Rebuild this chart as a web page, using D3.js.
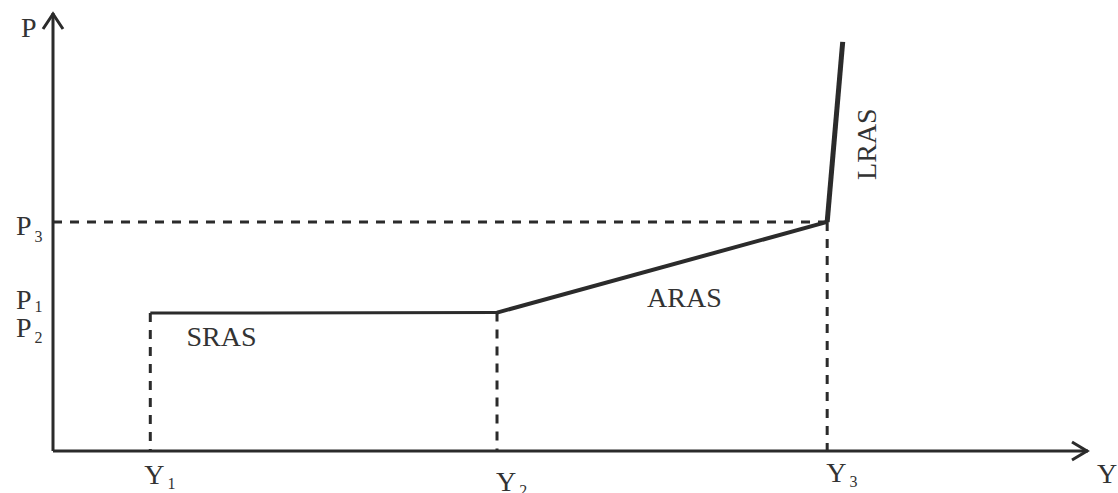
<!DOCTYPE html>
<html>
<head>
<meta charset="utf-8">
<script src="https://cdn.jsdelivr.net/npm/d3@7"></script>
<style>
  html, body { margin: 0; padding: 0; background: #fff; }
  svg { display: block; }
  text { font-family: "Liberation Serif", "DejaVu Serif", serif; fill: #333; }
</style>
</head>
<body>
<script>
// output levels on the Y axis (units of 0..100)
const yLabels = ["Y1", "Y2", "Y3"];
const yValues = [9.4, 42.9, 74.8];
// price levels on the P axis (units of 0..100)
const pLabels = ["P3", "P1", "P2"];
const pValues = [52.3, 31.5, 31.5];
// supply curve: SRAS flat, ARAS rising, LRAS near vertical
const curveX = [9.4, 42.9, 74.8, 76.3];
const curveP = [31.5, 31.6, 52.3, 93.4];
const curveNames = ["SRAS", "ARAS", "LRAS"];

const width = 1118, height = 493;
const svg = d3.select("body").append("svg")
  .attr("width", width)
  .attr("height", height);

const x = d3.scaleLinear().domain([0, 100]).range([53, 1088]);
const y = d3.scaleLinear().domain([0, 100]).range([451, 13]);

const ink = "#2b2b2b";
const fs = 28;

// axes
svg.append("line")
  .attr("x1", x(0)).attr("y1", y(0))
  .attr("x2", x(0)).attr("y2", y(100))
  .attr("stroke", ink).attr("stroke-width", 3);
svg.append("line")
  .attr("x1", x(0)).attr("y1", y(0))
  .attr("x2", x(100)).attr("y2", y(0))
  .attr("stroke", ink).attr("stroke-width", 3);

// arrow heads
svg.append("path")
  .attr("d", `M${x(0) - 10},${y(100) + 16} L${x(0)},${y(100) + 1} L${x(0) + 10},${y(100) + 16}`)
  .attr("fill", "none").attr("stroke", ink).attr("stroke-width", 3);
svg.append("path")
  .attr("d", `M${x(100) - 16},${y(0) - 9} L${x(100) - 1},${y(0)} L${x(100) - 16},${y(0) + 9}`)
  .attr("fill", "none").attr("stroke", ink).attr("stroke-width", 3);

// dashed guides
const dash = "9,8";
svg.append("line")
  .attr("x1", x(0)).attr("y1", y(pValues[0]))
  .attr("x2", x(yValues[2])).attr("y2", y(pValues[0]))
  .attr("stroke", ink).attr("stroke-width", 3).attr("stroke-dasharray", dash);

svg.selectAll("line.guide")
  .data(yValues)
  .enter().append("line")
  .attr("class", "guide")
  .attr("x1", (d) => x(d))
  .attr("x2", (d) => x(d))
  .attr("y1", (d, i) => y(curveP[i]))
  .attr("y2", y(0))
  .attr("stroke", ink).attr("stroke-width", 3).attr("stroke-dasharray", dash);

// supply curve segments
const widths = [3, 4, 5];
const segs = curveNames.map((n, i) => ({ i }));
svg.selectAll("line.seg")
  .data(segs)
  .enter().append("line")
  .attr("class", "seg")
  .attr("x1", (d) => x(curveX[d.i]))
  .attr("y1", (d) => y(curveP[d.i]))
  .attr("x2", (d) => x(curveX[d.i + 1]))
  .attr("y2", (d) => y(curveP[d.i + 1]))
  .attr("stroke", ink)
  .attr("stroke-width", (d) => widths[d.i])
  .attr("stroke-linecap", "butt");

// label helper with subscript
function subLabel(tx, ty, label, subDy) {
  const t = svg.append("text")
    .attr("x", tx).attr("y", ty)
    .attr("font-size", fs);
  t.append("tspan").text(label[0]);
  if (label.length > 1) {
    t.append("tspan")
      .attr("font-size", 16)
      .attr("dx", 3)
      .attr("dy", subDy == null ? 6 : subDy)
      .text(label.slice(1));
  }
}

// axis titles
subLabel(21, 37, "P");
subLabel(1097, 483, "Y");

// P labels
const pOffsets = [13, -4, 24];
const pSubDy = [7, 3, 6];
pLabels.forEach((l, i) => subLabel(16, y(pValues[i]) + pOffsets[i], l, pSubDy[i]));

// Y labels
const yShift = [-6, -1, -1];
const yOffsets = [33, 40, 31];
yLabels.forEach((l, i) => subLabel(x(yValues[i]) + yShift[i], y(0) + yOffsets[i], l, 5));

// curve names
svg.append("text")
  .attr("x", x(12.9)).attr("y", y(pValues[1]) + 33)
  .attr("font-size", fs)
  .text(curveNames[0]);
svg.append("text")
  .attr("x", x(57.4)).attr("y", y(pValues[1]) - 6)
  .attr("font-size", fs)
  .text(curveNames[1]);
svg.append("text")
  .attr("transform", `translate(${x(79.5)},${y(61.9)}) rotate(-90)`)
  .attr("font-size", fs)
  .text(curveNames[2]);
</script>
</body>
</html>
